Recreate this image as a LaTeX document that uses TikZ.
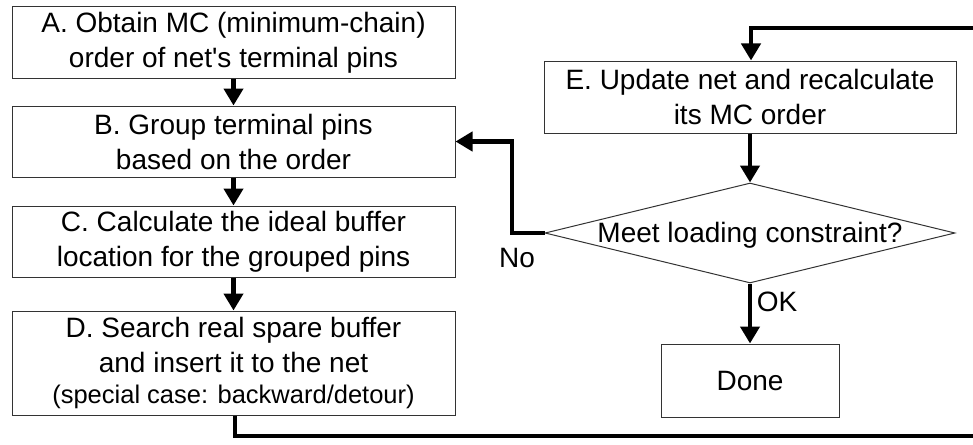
\documentclass[tikz,border=0pt]{standalone}
\usepackage{fontspec}
\newfontfamily\hv{Liberation Sans}
\usetikzlibrary{shapes.geometric,arrows.meta}
\begin{document}
\begin{tikzpicture}[x=1pt,y=-1pt,
  box/.style={draw=black!80,line width=1pt,rectangle,inner sep=0pt,align=center,font=\hv\fontsize{28}{35}\selectfont},
  flow/.style={line width=4.5pt,-{Triangle[length=17pt,width=19pt]}},
  lbl/.style={font=\hv\fontsize{28}{32}\selectfont,inner sep=0pt}]
\useasboundingbox (0,0) rectangle (973,444);
\clip (0,0) rectangle (973,444);
\node[box,minimum width=443pt,minimum height=71pt] (A) at (233.5,42.5) {A. Obtain MC (minimum-chain)\\order of net's terminal pins};
\node[box,minimum width=443pt,minimum height=71pt] (B) at (233.5,141.5) {B. Group terminal pins\\based on the order};
\node[box,minimum width=443pt,minimum height=71pt] (C) at (233.5,241.5) {C. Calculate the ideal buffer\\location for the grouped pins};
\node[box,minimum width=443pt,minimum height=104pt] (D) at (233.5,363) {D. Search real spare buffer\\and insert it to the net\\[-4pt]{\fontsize{25.5}{30}\selectfont (special case: backward/detour)}};
\node[box,minimum width=412pt,minimum height=72pt] (E) at (750,97) {E. Update net and recalculate\\its MC order};
\node[draw=black!80,line width=1pt,diamond,minimum width=410pt,minimum height=100pt,inner sep=0pt] (F) at (750,233) {};
\node[lbl] (Ft) at (750,235) {Meet loading constraint?};
\node[box,minimum width=178pt,minimum height=73pt] (G) at (750,380.5) {Done};
\node[lbl] (no) at (517,258) {No};
\node[lbl] (ok) at (777,302) {OK};
\coordinate (d1) at (235,436);
\coordinate (d2) at (990,436);
\coordinate (d3) at (990,28);
\coordinate (d4) at (751,28);
\coordinate (n1) at (512,233);
\coordinate (n2) at (512,141.5);
\draw[flow] (A) -- (B);
\draw[flow] (B) -- (C);
\draw[flow] (C) -- (D);
\draw[flow] (E) -- (F.north);
\draw[flow] (F.south) -- (G);
\draw[flow] (F.west) -- (n1) -- (n2) -- (B.east);
\draw[flow] (D.south -| d1) -- (d1) -- (d2) -- (d3) -- (d4) -- (E.north -| d4);
\end{tikzpicture}
\end{document}
